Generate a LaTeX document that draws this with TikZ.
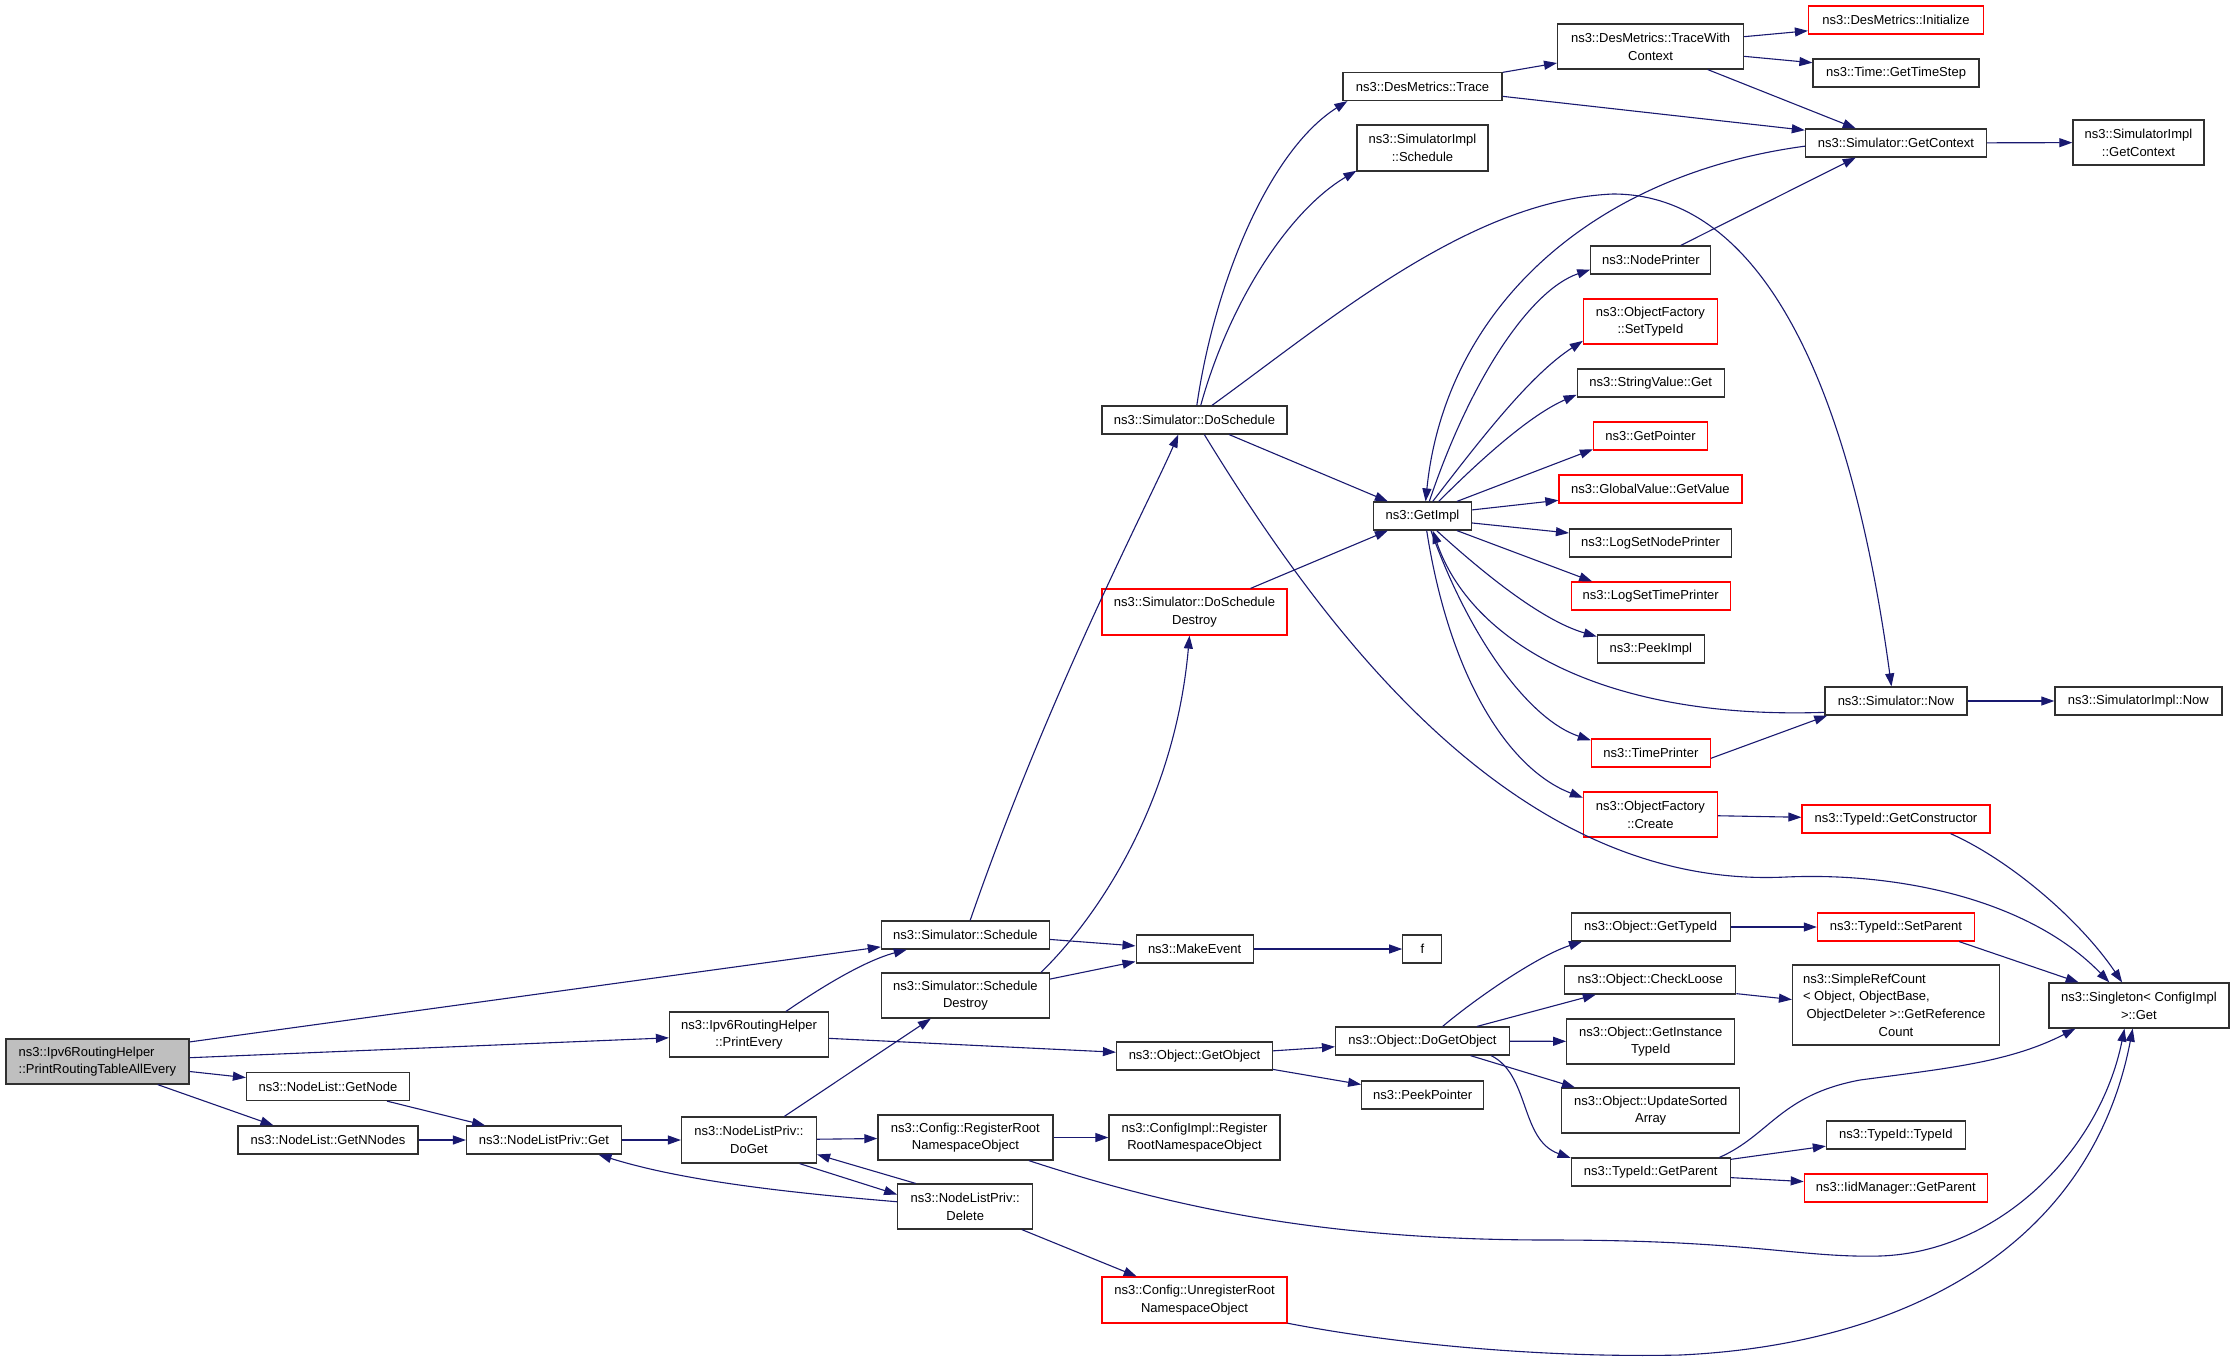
\documentclass[tikz,border=0pt]{standalone}
\usepackage{fontspec}
\setmainfont{Liberation Sans}
\usetikzlibrary{arrows.meta}
\definecolor{edgeblue}{HTML}{191970}
\definecolor{boxline}{HTML}{303030}
\definecolor{rootfill}{HTML}{BFBFBF}
\definecolor{boxred}{HTML}{FF0000}
\newcommand{\mknode}[6]{\node[#1,minimum width=#4pt,minimum height=#5pt] (#2) at (#3) {#6};}
\begin{document}
\begin{tikzpicture}[x=1pt,y=-1pt,
  box/.style={draw=boxline, line width=1.2pt, fill=white, inner sep=0pt, align=center,
              font=\fontsize{13}{17.7}\selectfont},
  redbox/.style={box, draw=boxred},
  edge/.style={draw=edgeblue, line width=1.1pt, -{Triangle[length=13pt,width=9pt]}}]
\useasboundingbox (0,0) rectangle (2235,1361);
\fill[white] (0,0) rectangle (2235,1361);

% nodes
\node[box,fill=rootfill,align=left,minimum width=183pt,minimum height=45pt] (root) at (97.5,1061.5) {ns3::Ipv6RoutingHelper\\::PrintRoutingTableAllEvery};
\mknode{box}{GetNode}{328,1086.5}{163}{28}{ns3::NodeList::GetNode}
\mknode{box}{GetNNodes}{328,1140}{180}{28}{ns3::NodeList::GetNNodes}
\mknode{box}{ListGet}{544,1140}{155}{28}{ns3::NodeListPriv::Get}
\mknode{box}{Schedule}{965.4,935}{168}{28}{ns3::Simulator::Schedule}
\mknode{box}{SchedDestroy}{965.4,995.5}{168}{45}{ns3::Simulator::Schedule\\Destroy}
\mknode{box}{PrintEvery}{749,1034.5}{159}{45}{ns3::Ipv6RoutingHelper\\::PrintEvery}
\mknode{box}{DoGet}{749,1140}{135}{46}{ns3::NodeListPriv::\\DoGet}
\mknode{box}{RegisterRoot}{965.4,1137.5}{175}{45}{ns3::Config::RegisterRoot\\NamespaceObject}
\mknode{box}{Delete}{965.2,1206.5}{135}{45}{ns3::NodeListPriv::\\Delete}
\mknode{redbox}{Unregister}{1194.5,1300}{185}{46}{ns3::Config::UnregisterRoot\\NamespaceObject}
\mknode{box}{GetObject}{1194.5,1056}{156}{28}{ns3::Object::GetObject}
\mknode{box}{ConfigImpl}{1194.5,1137.5}{171}{45}{ns3::ConfigImpl::Register\\RootNamespaceObject}
\mknode{box}{MakeEvent}{1194.6,949}{117}{28}{ns3::MakeEvent}
\mknode{box}{f}{1422.3,949}{39}{28}{f}
\mknode{box}{DoGetObject}{1422.5,1041}{174}{28}{ns3::Object::DoGetObject}
\mknode{box}{PeekPointer}{1422.7,1095}{122}{28}{ns3::PeekPointer}
\mknode{box}{ObjGetTypeId}{1650.7,927}{159}{28}{ns3::Object::GetTypeId}
\mknode{box}{CheckLoose}{1650.3,980}{171}{28}{ns3::Object::CheckLoose}
\mknode{box}{GetInstTypeId}{1650.7,1041.5}{168}{45}{ns3::Object::GetInstance\\TypeId}
\mknode{box}{UpdateSorted}{1650.7,1110.5}{178}{45}{ns3::Object::UpdateSorted\\Array}
\mknode{box}{TGetParent}{1650.7,1172}{159}{28}{ns3::TypeId::GetParent}
\mknode{redbox}{SetParent}{1895.9,927}{157}{28}{ns3::TypeId::SetParent}
\mknode{box}{SimpleRef}{1896,1005}{207}{80}{\makebox[186pt][l]{ns3::SimpleRefCount}\\\makebox[186pt][l]{< Object, ObjectBase,}\\ObjectDeleter >::GetReference\\Count}
\mknode{box}{Singleton}{2138.9,1005.5}{180}{45}{ns3::Singleton< ConfigImpl\\>::Get}
\mknode{box}{TypeIdTypeId}{1895.9,1135}{139}{28}{ns3::TypeId::TypeId}
\mknode{redbox}{IidGetParent}{1895.8,1188}{183}{28}{ns3::IidManager::GetParent}
\mknode{box}{DMTrace}{1422.5,86.5}{159}{28}{ns3::DesMetrics::Trace}
\mknode{box}{SISchedule}{1422.5,148}{131}{46}{ns3::SimulatorImpl\\::Schedule}
\mknode{box}{TraceWith}{1650.6,46.5}{186}{45}{ns3::DesMetrics::TraceWith\\Context}
\mknode{box}{DoSchedule}{1194.5,420}{185}{28}{ns3::Simulator::DoSchedule}
\mknode{box}{NodePrinter}{1650.8,260}{120}{28}{ns3::NodePrinter}
\mknode{redbox}{SetTypeId}{1650.4,321.5}{134}{45}{ns3::ObjectFactory\\::SetTypeId}
\mknode{box}{StringGet}{1650.7,383}{147}{28}{ns3::StringValue::Get}
\mknode{redbox}{GetPointer}{1650.5,436}{114}{28}{ns3::GetPointer}
\mknode{redbox}{Initialize}{1896,20}{175}{28}{ns3::DesMetrics::Initialize}
\mknode{box}{GetTimeStep}{1896,73}{166}{28}{ns3::Time::GetTimeStep}
\mknode{box}{SimGetContext}{1895.9,143}{181}{28}{ns3::Simulator::GetContext}
\mknode{box}{SIGetContext}{2138.4,142.5}{131}{45}{ns3::SimulatorImpl\\::GetContext}
\mknode{box}{GetImpl}{1422.5,516}{98}{28}{ns3::GetImpl}
\mknode{redbox}{DoSchedDestroy}{1194.5,612}{185}{46}{ns3::Simulator::DoSchedule\\Destroy}
\mknode{redbox}{GlobalValue}{1650.4,489}{183}{28}{ns3::GlobalValue::GetValue}
\mknode{box}{LogNode}{1650.5,543}{162}{28}{ns3::LogSetNodePrinter}
\mknode{redbox}{LogTime}{1650.7,596}{159}{28}{ns3::LogSetTimePrinter}
\mknode{box}{PeekImpl}{1650.8,649}{107}{28}{ns3::PeekImpl}
\mknode{redbox}{TimePrinter}{1650.9,753}{119}{28}{ns3::TimePrinter}
\mknode{redbox}{OFCreate}{1650.4,814.5}{134}{45}{ns3::ObjectFactory\\::Create}
\mknode{box}{SimNow}{1895.9,701}{142}{28}{ns3::Simulator::Now}
\mknode{box}{SINow}{2138.4,701}{167}{28}{ns3::SimulatorImpl::Now}
\mknode{redbox}{GetConstructor}{1896,819}{188}{28}{ns3::TypeId::GetConstructor}

% edges
\draw[edge] (root.12) -- (Schedule.-172);
\draw[edge] (root) -- (PrintEvery);
\draw[edge] (root) -- (GetNode);
\draw[edge] (root.-21) -- (GetNNodes.165);
\draw[edge] (GetNode) -- (ListGet);
\draw[edge] (GetNNodes) -- (ListGet);
\draw[edge] (ListGet) -- (DoGet);
\draw[edge] (DoGet) -- (SchedDestroy);
\draw[edge] (DoGet) -- (RegisterRoot);
\draw[edge] (DoGet.-25) -- (Delete.170);
\draw[edge] (Delete.155) -- (DoGet.-12);
\draw[edge] (Delete.176) .. controls (780,1192) and (680,1180) .. (ListGet.-15);
\draw[edge] (Delete) -- (Unregister);
\draw[edge] (PrintEvery.32) .. controls (810,995) and (860,962) .. (Schedule.-166);
\draw[edge] (PrintEvery) -- (GetObject);
\draw[edge] (Schedule.72) .. controls (1050,690) and (1150,500) .. (DoSchedule.-138);
\draw[edge] (Schedule.-3) -- (MakeEvent.177);
\draw[edge] (SchedDestroy.17) .. controls (1100,915) and (1175,800) .. (DoSchedDestroy.-102);
\draw[edge] (SchedDestroy.11) -- (MakeEvent.-168);
\draw[edge] (MakeEvent) -- (f);
\draw[edge] (RegisterRoot) -- (ConfigImpl);
\draw[edge] (RegisterRoot.-20) .. controls (1180,1210) and (1330,1240) .. (1550,1240)
            .. controls (1750,1240) and (1800,1258) .. (1880,1256)
            .. controls (2000,1252) and (2100,1150) .. (Singleton.-122);
\draw[edge] (Unregister.-14) .. controls (1400,1345) and (1550,1358) .. (1680,1355)
            .. controls (1900,1345) and (2090,1250) .. (Singleton.-105);
\draw[edge] (GetObject) -- (DoGetObject);
\draw[edge] (GetObject) -- (PeekPointer);
\draw[edge] (DoGetObject.36) .. controls (1480,995) and (1540,955) .. (ObjGetTypeId.-168);
\draw[edge] (DoGetObject) -- (CheckLoose);
\draw[edge] (DoGetObject) -- (GetInstTypeId);
\draw[edge] (DoGetObject) -- (UpdateSorted);
\draw[edge] (DoGetObject.-12) .. controls (1530,1075) and (1520,1140) .. (TGetParent.170);
\draw[edge] (ObjGetTypeId) -- (SetParent);
\draw[edge] (CheckLoose.-9) -- (SimpleRef.177);
\draw[edge] (SetParent.-13) -- (Singleton.159);
\draw[edge] (TGetParent.12) .. controls (1770,1135) and (1780,1095) .. (1860,1080)
            .. controls (1950,1068) and (2010,1062) .. (Singleton.-160);
\draw[edge] (TGetParent.9) -- (TypeIdTypeId.-171);
\draw[edge] (TGetParent.-4) -- (IidGetParent.176);
\draw[edge] (DoSchedule.81) .. controls (1215,280) and (1270,150) .. (DMTrace.-169);
\draw[edge] (DoSchedule.67) .. controls (1230,300) and (1290,210) .. (SISchedule.-161);
\draw[edge] (DoSchedule.40) .. controls (1330,320) and (1470,200) .. (1613,194)
            .. controls (1760,194) and (1850,380) .. (SimNow.107);
\draw[edge] (DoSchedule) -- (GetImpl);
\draw[edge] (DoSchedule.-56) .. controls (1330,640) and (1520,890) .. (1786,877)
            .. controls (1900,872) and (2030,900) .. (Singleton.142);
\draw[edge] (DoSchedDestroy) -- (GetImpl);
\draw[edge] (DMTrace.10) -- (TraceWith.-170);
\draw[edge] (DMTrace.-7) -- (SimGetContext.172);
\draw[edge] (TraceWith.6) -- (Initialize.-173);
\draw[edge] (TraceWith.-6) -- (GetTimeStep.173);
\draw[edge] (TraceWith.-22) -- (SimGetContext.160);
\draw[edge] (SimGetContext) -- (SIGetContext);
\draw[edge] (SimGetContext.182) .. controls (1590,175) and (1445,310) .. (GetImpl.78);
\draw[edge] (NodePrinter.26) -- (SimGetContext.-160);
\draw[edge] (GetImpl.65) .. controls (1470,380) and (1530,290) .. (NodePrinter.-171);
\draw[edge] (GetImpl.55) .. controls (1480,440) and (1530,375) .. (SetTypeId.-164);
\draw[edge] (GetImpl.42) .. controls (1480,460) and (1530,415) .. (StringGet.-171);
\draw[edge] (GetImpl.23) -- (GetPointer.-167);
\draw[edge] (GetImpl.7) -- (GlobalValue.-173);
\draw[edge] (GetImpl.-8) -- (LogNode.173);
\draw[edge] (GetImpl.-23) -- (LogTime.166);
\draw[edge] (GetImpl.-46) .. controls (1480,570) and (1540,620) .. (PeekImpl.167);
\draw[edge] (SimNow.-171) .. controls (1600,720) and (1470,640) .. (GetImpl.-55);
\draw[edge] (GetImpl.-60) .. controls (1470,640) and (1530,720) .. (TimePrinter.168);
\draw[edge] (GetImpl.-74) .. controls (1450,680) and (1510,770) .. (OFCreate.166);
\draw[edge] (TimePrinter.-5) -- (SimNow.-168);
\draw[edge] (SimNow) -- (SINow);
\draw[edge] (OFCreate) -- (GetConstructor);
\draw[edge] (GetConstructor.-15) .. controls (2010,860) and (2080,920) .. (Singleton.126);
\end{tikzpicture}
\end{document}
